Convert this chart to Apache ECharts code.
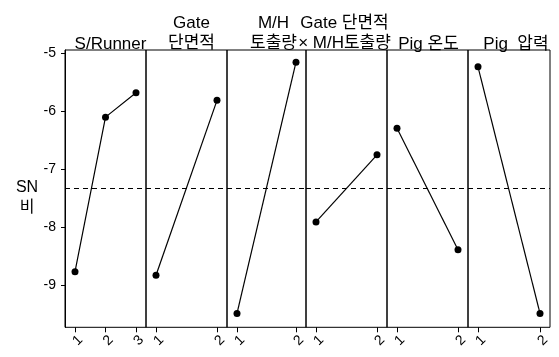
<!DOCTYPE html>
<html><head><meta charset="utf-8">
<script src="https://cdn.jsdelivr.net/npm/echarts@6/dist/echarts.min.js"></script>
<style>html,body{margin:0;padding:0;background:#fff}#c{width:559px;height:357px}</style>
</head><body><div id="c"></div>
<script>
// ---- data ----
const factors = ["S/Runner", "Gate\n단면적", "M/H\n토출량", "Gate 단면적\n× M/H토출량", "Pig 온도", "Pig  압력"];
const levels = [[1, 2, 3], [1, 2], [1, 2], [1, 2], [1, 2], [1, 2]];
const sRunner = [-8.77, -6.10, -5.68];
const gateArea = [-8.83, -5.81];
const mhOutput = [-9.49, -5.15];
const gateXmh = [-7.91, -6.75];
const pigTemp = [-6.29, -8.39];
const pigPress = [-5.23, -9.49];
const snValues = [sRunner, gateArea, mhOutput, gateXmh, pigTemp, pigPress];
const overallMean = -7.32;
const yTicks = [-9, -8, -7, -6, -5];
const yAxisTitle = "SN\n비";

// ---- layout ----
const panelEdges = [65, 146, 227, 306, 387, 468, 550];
const edgePad = 10;
const gridTop = 50, gridBottom = 29.7;
const yMin = -9.73, yMax = -4.94;
const titleShift = [0, 0, 2, -7, -4, 2];
const font = "'Liberation Sans', 'Noto Sans CJK KR', sans-serif";

const grids = [], xAxes = [], yAxes = [], series = [], titles = [];
factors.forEach((name, i) => {
  const l = panelEdges[i], w = panelEdges[i + 1] - panelEdges[i];
  const lv = levels[i];
  const n = lv.length;
  const pad = edgePad * (n - 1) / (w - 2 * edgePad);
  grids.push({left: l, width: w, top: gridTop, bottom: gridBottom, show: true,
    borderColor: '#000', borderWidth: 1, backgroundColor: 'transparent'});
  xAxes.push({type: 'value', gridIndex: i, min: lv[0] - pad, max: lv[n - 1] + pad,
    axisLine: {show: false, onZero: false},
    axisTick: {show: true, customValues: lv, length: 5, lineStyle: {color: '#000'}},
    axisLabel: {show: true, customValues: lv, rotate: 45, align: 'left', verticalAlign: 'middle',
      margin: 16, fontSize: 14, color: '#000', fontFamily: font},
    splitLine: {show: false}});
  yAxes.push({type: 'value', gridIndex: i, min: yMin, max: yMax,
    axisLine: {show: i === 0, onZero: false, lineStyle: {color: '#000'}},
    axisTick: {show: i === 0, customValues: yTicks, length: 4, lineStyle: {color: '#000'}},
    axisLabel: {show: i === 0, customValues: yTicks, margin: 9, fontSize: 14, color: '#000', fontFamily: font},
    splitLine: {show: false}});
  series.push({type: 'line', xAxisIndex: i, yAxisIndex: i,
    data: lv.map((x, j) => [x, snValues[i][j]]),
    symbol: 'circle', symbolSize: 7, showSymbol: true,
    lineStyle: {color: '#000', width: 1.2}, itemStyle: {color: '#000'},
    markLine: {silent: true, symbol: ['none', 'none'], label: {show: false},
      lineStyle: {color: '#000', width: 1, type: [5, 4]},
      data: [{yAxis: overallMean}]},
    animation: false});
  const twoLine = name.indexOf('\n') >= 0;
  titles.push({text: name, left: l + w / 2 + titleShift[i], top: twoLine ? 8 : 29, textAlign: 'center',
    textStyle: {fontSize: 17, lineHeight: 20, fontWeight: 'normal', color: '#000', fontFamily: font}});
});
titles.push({text: yAxisTitle, left: 22, top: 173, textAlign: 'center',
  textStyle: {fontSize: 16, lineHeight: 20, fontWeight: 'normal', color: '#000', fontFamily: font}});

const chart = echarts.init(document.getElementById('c'), null, {renderer: 'canvas'});
chart.setOption({animation: false, backgroundColor: '#fff', title: titles,
  grid: grids, xAxis: xAxes, yAxis: yAxes, series: series});
</script></body></html>
